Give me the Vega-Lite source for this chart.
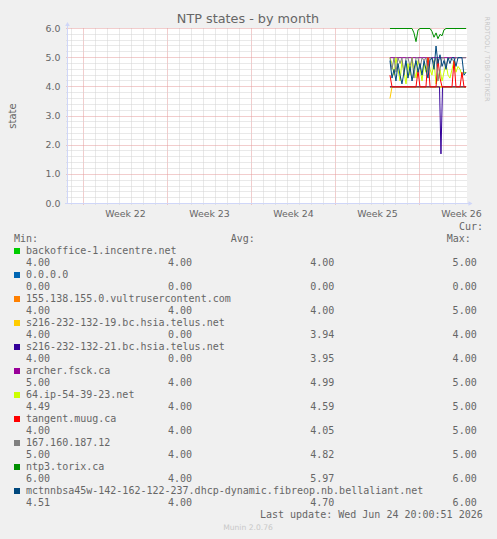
{
  "$schema": "https://vega.github.io/schema/vega-lite/v6.json",
  "width": 400,
  "height": 175,
  "autosize": {"type": "none"},
  "padding": {"left": 67, "top": 28, "right": 30, "bottom": 336},
  "background": "#f0f0f0",
  "config": {
    "view": {"fill": "#ffffff", "stroke": null},
    "font": "DejaVu Sans",
    "axis": {"gridDash": [1, 1], "tickDash": [1, 1]}
  },
  "title": {
    "text": "NTP states - by month",
    "frame": "group",
    "anchor": "middle",
    "dx": -19,
    "offset": -9,
    "font": "DejaVu Sans",
    "fontSize": 12.8,
    "fontWeight": "normal",
    "color": "#666666"
  },
  "datasets": {
    "series": [
      {"host": "backoffice-1.incentre.net", "day": 25.58, "v": 4},
      {"host": "backoffice-1.incentre.net", "day": 31.92, "v": 4},
      {"host": "0.0.0.0", "day": 25.58, "v": 0},
      {"host": "0.0.0.0", "day": 31.92, "v": 0},
      {"host": "155.138.155.0.vultrusercontent.com", "day": 25.58, "v": 4},
      {"host": "155.138.155.0.vultrusercontent.com", "day": 31.92, "v": 4},
      {"host": "s216-232-132-19.bc.hsia.telus.net", "day": 25.58, "v": 3.6},
      {"host": "s216-232-132-19.bc.hsia.telus.net", "day": 25.75, "v": 4},
      {"host": "s216-232-132-19.bc.hsia.telus.net", "day": 31.92, "v": 4},
      {"host": "s216-232-132-21.bc.hsia.telus.net", "day": 25.58, "v": 4},
      {"host": "s216-232-132-21.bc.hsia.telus.net", "day": 29.71, "v": 4},
      {"host": "s216-232-132-21.bc.hsia.telus.net", "day": 29.83, "v": 1.7},
      {"host": "s216-232-132-21.bc.hsia.telus.net", "day": 29.96, "v": 4},
      {"host": "s216-232-132-21.bc.hsia.telus.net", "day": 31.92, "v": 4},
      {"host": "archer.fsck.ca", "day": 25.58, "v": 5},
      {"host": "archer.fsck.ca", "day": 31.92, "v": 5},
      {"host": "64.ip-54-39-23.net", "day": 25.58, "v": 5},
      {"host": "64.ip-54-39-23.net", "day": 25.75, "v": 4.8},
      {"host": "64.ip-54-39-23.net", "day": 25.92, "v": 4.4},
      {"host": "64.ip-54-39-23.net", "day": 26.08, "v": 5},
      {"host": "64.ip-54-39-23.net", "day": 26.25, "v": 4.6},
      {"host": "64.ip-54-39-23.net", "day": 26.42, "v": 4.2},
      {"host": "64.ip-54-39-23.net", "day": 26.58, "v": 4.9},
      {"host": "64.ip-54-39-23.net", "day": 26.75, "v": 4.5},
      {"host": "64.ip-54-39-23.net", "day": 26.92, "v": 4.1},
      {"host": "64.ip-54-39-23.net", "day": 27.08, "v": 4.8},
      {"host": "64.ip-54-39-23.net", "day": 27.25, "v": 4.4},
      {"host": "64.ip-54-39-23.net", "day": 27.42, "v": 5},
      {"host": "64.ip-54-39-23.net", "day": 27.58, "v": 4.6},
      {"host": "64.ip-54-39-23.net", "day": 27.75, "v": 4.3},
      {"host": "64.ip-54-39-23.net", "day": 27.92, "v": 4.9},
      {"host": "64.ip-54-39-23.net", "day": 28.08, "v": 4.7},
      {"host": "64.ip-54-39-23.net", "day": 28.25, "v": 4.2},
      {"host": "64.ip-54-39-23.net", "day": 28.42, "v": 4.8},
      {"host": "64.ip-54-39-23.net", "day": 28.58, "v": 4.5},
      {"host": "64.ip-54-39-23.net", "day": 28.75, "v": 5},
      {"host": "64.ip-54-39-23.net", "day": 28.92, "v": 4.6},
      {"host": "64.ip-54-39-23.net", "day": 29.08, "v": 4.4},
      {"host": "64.ip-54-39-23.net", "day": 29.25, "v": 4.9},
      {"host": "64.ip-54-39-23.net", "day": 29.42, "v": 4.1},
      {"host": "64.ip-54-39-23.net", "day": 29.58, "v": 4.3},
      {"host": "64.ip-54-39-23.net", "day": 29.75, "v": 4.6},
      {"host": "64.ip-54-39-23.net", "day": 29.92, "v": 4.2},
      {"host": "64.ip-54-39-23.net", "day": 30.08, "v": 4.5},
      {"host": "64.ip-54-39-23.net", "day": 30.25, "v": 4.8},
      {"host": "64.ip-54-39-23.net", "day": 30.42, "v": 4.4},
      {"host": "64.ip-54-39-23.net", "day": 30.58, "v": 4.3},
      {"host": "64.ip-54-39-23.net", "day": 30.75, "v": 4.6},
      {"host": "64.ip-54-39-23.net", "day": 30.92, "v": 4.9},
      {"host": "64.ip-54-39-23.net", "day": 31.08, "v": 4.5},
      {"host": "64.ip-54-39-23.net", "day": 31.25, "v": 4.7},
      {"host": "64.ip-54-39-23.net", "day": 31.42, "v": 4.6},
      {"host": "64.ip-54-39-23.net", "day": 31.58, "v": 4.4},
      {"host": "64.ip-54-39-23.net", "day": 31.75, "v": 4.5},
      {"host": "64.ip-54-39-23.net", "day": 31.92, "v": 4.49},
      {"host": "tangent.muug.ca", "day": 25.58, "v": 4.4},
      {"host": "tangent.muug.ca", "day": 25.75, "v": 4},
      {"host": "tangent.muug.ca", "day": 27.75, "v": 4},
      {"host": "tangent.muug.ca", "day": 27.92, "v": 4.55},
      {"host": "tangent.muug.ca", "day": 28.08, "v": 4},
      {"host": "tangent.muug.ca", "day": 28.58, "v": 4},
      {"host": "tangent.muug.ca", "day": 28.75, "v": 5},
      {"host": "tangent.muug.ca", "day": 28.92, "v": 4},
      {"host": "tangent.muug.ca", "day": 29.42, "v": 4},
      {"host": "tangent.muug.ca", "day": 29.58, "v": 4.95},
      {"host": "tangent.muug.ca", "day": 29.75, "v": 4.3},
      {"host": "tangent.muug.ca", "day": 29.92, "v": 4},
      {"host": "tangent.muug.ca", "day": 30.75, "v": 4},
      {"host": "tangent.muug.ca", "day": 30.92, "v": 4.9},
      {"host": "tangent.muug.ca", "day": 31.08, "v": 4},
      {"host": "tangent.muug.ca", "day": 31.42, "v": 4},
      {"host": "tangent.muug.ca", "day": 31.58, "v": 4.5},
      {"host": "tangent.muug.ca", "day": 31.75, "v": 4},
      {"host": "tangent.muug.ca", "day": 31.92, "v": 4},
      {"host": "167.160.187.12", "day": 25.58, "v": 5},
      {"host": "167.160.187.12", "day": 25.75, "v": 4.6},
      {"host": "167.160.187.12", "day": 25.92, "v": 5},
      {"host": "167.160.187.12", "day": 26.08, "v": 4.5},
      {"host": "167.160.187.12", "day": 26.25, "v": 5},
      {"host": "167.160.187.12", "day": 26.42, "v": 4.8},
      {"host": "167.160.187.12", "day": 26.58, "v": 5},
      {"host": "167.160.187.12", "day": 26.75, "v": 4.4},
      {"host": "167.160.187.12", "day": 26.92, "v": 5},
      {"host": "167.160.187.12", "day": 27.08, "v": 5},
      {"host": "167.160.187.12", "day": 27.25, "v": 4.7},
      {"host": "167.160.187.12", "day": 27.42, "v": 5},
      {"host": "167.160.187.12", "day": 27.58, "v": 4.3},
      {"host": "167.160.187.12", "day": 27.75, "v": 5},
      {"host": "167.160.187.12", "day": 27.92, "v": 5},
      {"host": "167.160.187.12", "day": 28.08, "v": 4.6},
      {"host": "167.160.187.12", "day": 28.25, "v": 5},
      {"host": "167.160.187.12", "day": 28.42, "v": 4.9},
      {"host": "167.160.187.12", "day": 28.58, "v": 5},
      {"host": "167.160.187.12", "day": 28.75, "v": 4.5},
      {"host": "167.160.187.12", "day": 28.92, "v": 5},
      {"host": "167.160.187.12", "day": 29.08, "v": 5},
      {"host": "167.160.187.12", "day": 29.25, "v": 4.8},
      {"host": "167.160.187.12", "day": 29.42, "v": 5},
      {"host": "167.160.187.12", "day": 29.58, "v": 4.2},
      {"host": "167.160.187.12", "day": 29.75, "v": 4.6},
      {"host": "167.160.187.12", "day": 29.92, "v": 5},
      {"host": "167.160.187.12", "day": 30.08, "v": 5},
      {"host": "167.160.187.12", "day": 30.25, "v": 4.7},
      {"host": "167.160.187.12", "day": 30.42, "v": 5},
      {"host": "167.160.187.12", "day": 30.92, "v": 4.9},
      {"host": "167.160.187.12", "day": 31.08, "v": 5},
      {"host": "167.160.187.12", "day": 31.92, "v": 5},
      {"host": "ntp3.torix.ca", "day": 25.58, "v": 6},
      {"host": "ntp3.torix.ca", "day": 27.42, "v": 6},
      {"host": "ntp3.torix.ca", "day": 27.58, "v": 5.85},
      {"host": "ntp3.torix.ca", "day": 27.75, "v": 5.55},
      {"host": "ntp3.torix.ca", "day": 27.92, "v": 5.95},
      {"host": "ntp3.torix.ca", "day": 28.08, "v": 6},
      {"host": "ntp3.torix.ca", "day": 28.92, "v": 6},
      {"host": "ntp3.torix.ca", "day": 29.08, "v": 5.9},
      {"host": "ntp3.torix.ca", "day": 29.25, "v": 5.7},
      {"host": "ntp3.torix.ca", "day": 29.42, "v": 5.85},
      {"host": "ntp3.torix.ca", "day": 29.58, "v": 5.65},
      {"host": "ntp3.torix.ca", "day": 29.75, "v": 5.8},
      {"host": "ntp3.torix.ca", "day": 29.92, "v": 5.75},
      {"host": "ntp3.torix.ca", "day": 30.08, "v": 5.95},
      {"host": "ntp3.torix.ca", "day": 30.25, "v": 6},
      {"host": "ntp3.torix.ca", "day": 31.92, "v": 6},
      {"host": "mctnnbsa45w-142-162-122-237.dhcp-dynamic.fibreop.nb.bellaliant.net", "day": 25.58, "v": 4.9},
      {"host": "mctnnbsa45w-142-162-122-237.dhcp-dynamic.fibreop.nb.bellaliant.net", "day": 25.75, "v": 4.3},
      {"host": "mctnnbsa45w-142-162-122-237.dhcp-dynamic.fibreop.nb.bellaliant.net", "day": 25.92, "v": 4.6},
      {"host": "mctnnbsa45w-142-162-122-237.dhcp-dynamic.fibreop.nb.bellaliant.net", "day": 26.08, "v": 4.2},
      {"host": "mctnnbsa45w-142-162-122-237.dhcp-dynamic.fibreop.nb.bellaliant.net", "day": 26.25, "v": 4.8},
      {"host": "mctnnbsa45w-142-162-122-237.dhcp-dynamic.fibreop.nb.bellaliant.net", "day": 26.42, "v": 4.4},
      {"host": "mctnnbsa45w-142-162-122-237.dhcp-dynamic.fibreop.nb.bellaliant.net", "day": 26.58, "v": 4.1},
      {"host": "mctnnbsa45w-142-162-122-237.dhcp-dynamic.fibreop.nb.bellaliant.net", "day": 26.75, "v": 4.5},
      {"host": "mctnnbsa45w-142-162-122-237.dhcp-dynamic.fibreop.nb.bellaliant.net", "day": 26.92, "v": 4.9},
      {"host": "mctnnbsa45w-142-162-122-237.dhcp-dynamic.fibreop.nb.bellaliant.net", "day": 27.08, "v": 4.3},
      {"host": "mctnnbsa45w-142-162-122-237.dhcp-dynamic.fibreop.nb.bellaliant.net", "day": 27.25, "v": 4.7},
      {"host": "mctnnbsa45w-142-162-122-237.dhcp-dynamic.fibreop.nb.bellaliant.net", "day": 27.42, "v": 4.2},
      {"host": "mctnnbsa45w-142-162-122-237.dhcp-dynamic.fibreop.nb.bellaliant.net", "day": 27.58, "v": 4.6},
      {"host": "mctnnbsa45w-142-162-122-237.dhcp-dynamic.fibreop.nb.bellaliant.net", "day": 27.75, "v": 4.9},
      {"host": "mctnnbsa45w-142-162-122-237.dhcp-dynamic.fibreop.nb.bellaliant.net", "day": 27.92, "v": 4.5},
      {"host": "mctnnbsa45w-142-162-122-237.dhcp-dynamic.fibreop.nb.bellaliant.net", "day": 28.08, "v": 4.8},
      {"host": "mctnnbsa45w-142-162-122-237.dhcp-dynamic.fibreop.nb.bellaliant.net", "day": 28.25, "v": 4.4},
      {"host": "mctnnbsa45w-142-162-122-237.dhcp-dynamic.fibreop.nb.bellaliant.net", "day": 28.42, "v": 4.9},
      {"host": "mctnnbsa45w-142-162-122-237.dhcp-dynamic.fibreop.nb.bellaliant.net", "day": 28.58, "v": 4.6},
      {"host": "mctnnbsa45w-142-162-122-237.dhcp-dynamic.fibreop.nb.bellaliant.net", "day": 28.75, "v": 4.3},
      {"host": "mctnnbsa45w-142-162-122-237.dhcp-dynamic.fibreop.nb.bellaliant.net", "day": 28.92, "v": 4.9},
      {"host": "mctnnbsa45w-142-162-122-237.dhcp-dynamic.fibreop.nb.bellaliant.net", "day": 29.08, "v": 5.0},
      {"host": "mctnnbsa45w-142-162-122-237.dhcp-dynamic.fibreop.nb.bellaliant.net", "day": 29.25, "v": 4.6},
      {"host": "mctnnbsa45w-142-162-122-237.dhcp-dynamic.fibreop.nb.bellaliant.net", "day": 29.42, "v": 5.4},
      {"host": "mctnnbsa45w-142-162-122-237.dhcp-dynamic.fibreop.nb.bellaliant.net", "day": 29.58, "v": 4.8},
      {"host": "mctnnbsa45w-142-162-122-237.dhcp-dynamic.fibreop.nb.bellaliant.net", "day": 29.75, "v": 5.1},
      {"host": "mctnnbsa45w-142-162-122-237.dhcp-dynamic.fibreop.nb.bellaliant.net", "day": 29.92, "v": 4.7},
      {"host": "mctnnbsa45w-142-162-122-237.dhcp-dynamic.fibreop.nb.bellaliant.net", "day": 30.08, "v": 4.9},
      {"host": "mctnnbsa45w-142-162-122-237.dhcp-dynamic.fibreop.nb.bellaliant.net", "day": 30.25, "v": 4.6},
      {"host": "mctnnbsa45w-142-162-122-237.dhcp-dynamic.fibreop.nb.bellaliant.net", "day": 30.42, "v": 5.0},
      {"host": "mctnnbsa45w-142-162-122-237.dhcp-dynamic.fibreop.nb.bellaliant.net", "day": 30.58, "v": 4.8},
      {"host": "mctnnbsa45w-142-162-122-237.dhcp-dynamic.fibreop.nb.bellaliant.net", "day": 30.75, "v": 5.0},
      {"host": "mctnnbsa45w-142-162-122-237.dhcp-dynamic.fibreop.nb.bellaliant.net", "day": 30.92, "v": 5.0},
      {"host": "mctnnbsa45w-142-162-122-237.dhcp-dynamic.fibreop.nb.bellaliant.net", "day": 31.08, "v": 4.7},
      {"host": "mctnnbsa45w-142-162-122-237.dhcp-dynamic.fibreop.nb.bellaliant.net", "day": 31.25, "v": 5.0},
      {"host": "mctnnbsa45w-142-162-122-237.dhcp-dynamic.fibreop.nb.bellaliant.net", "day": 31.42, "v": 5.0},
      {"host": "mctnnbsa45w-142-162-122-237.dhcp-dynamic.fibreop.nb.bellaliant.net", "day": 31.58, "v": 5.0},
      {"host": "mctnnbsa45w-142-162-122-237.dhcp-dynamic.fibreop.nb.bellaliant.net", "day": 31.75, "v": 4.4},
      {"host": "mctnnbsa45w-142-162-122-237.dhcp-dynamic.fibreop.nb.bellaliant.net", "day": 31.92, "v": 4.5}
    ],
    "legend": [
      {"host": "backoffice-1.incentre.net", "cur": 4, "min": 4, "avg": 4, "max": 5},
      {"host": "0.0.0.0", "cur": 0, "min": 0, "avg": 0, "max": 0},
      {"host": "155.138.155.0.vultrusercontent.com", "cur": 4, "min": 4, "avg": 4, "max": 5},
      {"host": "s216-232-132-19.bc.hsia.telus.net", "cur": 4, "min": 0, "avg": 3.94, "max": 4},
      {"host": "s216-232-132-21.bc.hsia.telus.net", "cur": 4, "min": 0, "avg": 3.95, "max": 4},
      {"host": "archer.fsck.ca", "cur": 5, "min": 4, "avg": 4.99, "max": 5},
      {"host": "64.ip-54-39-23.net", "cur": 4.49, "min": 4, "avg": 4.59, "max": 5},
      {"host": "tangent.muug.ca", "cur": 4, "min": 4, "avg": 4.05, "max": 5},
      {"host": "167.160.187.12", "cur": 5, "min": 4, "avg": 4.82, "max": 5},
      {"host": "ntp3.torix.ca", "cur": 6, "min": 4, "avg": 5.97, "max": 6},
      {"host": "mctnnbsa45w-142-162-122-237.dhcp-dynamic.fibreop.nb.bellaliant.net", "cur": 4.51, "min": 4, "avg": 4.7, "max": 6}
    ]
  },
  "layer": [
    {
      "layer": [
        {
          "data": {"name": "series"},
          "mark": {"type": "line", "strokeWidth": 1, "interpolate": "linear", "yOffset": 0.5},
          "encoding": {
            "x": {
              "field": "day", "type": "quantitative",
              "scale": {"domain": [-1.3333, 32], "nice": false, "zero": false},
              "axis": {
                "title": null,
                "values": [-1,0,1,2,3,4,5,6,7,8,9,10,11,12,13,14,15,16,17,18,19,20,21,22,23,24,25,26,27,28,29,30,31],
                "tickCount": 200,
                "labelExpr": "datum.value % 7 === 0 ? 'Week ' + (22 + datum.value / 7) : ''",
                "labelOffset": 42,
                "labelFlush": false,
                "labelOverlap": false,
                "labelBound": false,
                "labelFont": "DejaVu Sans",
                "labelFontSize": 9.4,
                "labelColor": "#666666",
                "labelPadding": 4,
                "domain": false,
                "grid": true,
                "gridColor": {"condition": {"test": "datum.value % 7 === 0", "value": "#e49a9a"}, "value": "#d2d2d2"},
                "gridDash": [1, 1],
                "gridWidth": 1,
                "gridOpacity": 1,
                "ticks": true,
                "tickSize": 2,
                "tickColor": {"condition": {"test": "datum.value % 7 === 0", "value": "#e49a9a"}, "value": "#d2d2d2"},
                "tickDash": [1, 1]
              }
            },
            "y": {
              "field": "v", "type": "quantitative",
              "scale": {"domain": [0, 6], "nice": false, "zero": false},
              "axis": {
                "title": "state",
                "titleFont": "DejaVu Sans",
                "titleFontSize": 10,
                "titleFontWeight": "normal",
                "titleColor": "#666666",
                "titlePadding": 28,
                "values": [0,0.2,0.4,0.6,0.8,1,1.2,1.4,1.6,1.8,2,2.2,2.4,2.6,2.8,3,3.2,3.4,3.6,3.8,4,4.2,4.4,4.6,4.8,5,5.2,5.4,5.6,5.8,6],
                "tickCount": 200,
                "labelExpr": "abs(datum.value - round(datum.value)) < 0.001 ? format(datum.value, '.1f') : ''",
                "labelOverlap": false,
                "labelFlush": false,
                "labelBound": false,
                "labelFont": "DejaVu Sans",
                "labelFontSize": 9.4,
                "labelColor": "#666666",
                "labelPadding": 5,
                "domain": false,
                "grid": true,
                "gridColor": {"condition": {"test": "abs(datum.value - round(datum.value)) < 0.001", "value": "#e49a9a"}, "value": "#d2d2d2"},
                "gridDash": [1, 1],
                "gridOpacity": 1,
                "ticks": true,
                "tickSize": 2,
                "tickColor": {"condition": {"test": "abs(datum.value - round(datum.value)) < 0.001", "value": "#e49a9a"}, "value": "#d2d2d2"},
                "tickDash": [1, 1]
              }
            },
            "color": {
              "field": "host", "type": "nominal", "legend": null,
              "scale": {
                "domain": ["backoffice-1.incentre.net", "0.0.0.0", "155.138.155.0.vultrusercontent.com", "s216-232-132-19.bc.hsia.telus.net", "s216-232-132-21.bc.hsia.telus.net", "archer.fsck.ca", "64.ip-54-39-23.net", "tangent.muug.ca", "167.160.187.12", "ntp3.torix.ca", "mctnnbsa45w-142-162-122-237.dhcp-dynamic.fibreop.nb.bellaliant.net"],
                "range": ["#00cc00", "#0066b3", "#ff8000", "#ffcc00", "#330099", "#990099", "#ccff00", "#ff0000", "#808080", "#008f00", "#00487d"]
              }
            }
          }
        },
        {
          "data": {"values": [{}]},
          "mark": {"type": "rule", "color": "#cfd6f8", "strokeWidth": 1, "xOffset": 0.5},
          "encoding": {
            "x": {"datum": -1.3333, "type": "quantitative"},
            "y": {"datum": 0, "type": "quantitative"},
            "y2": {"datum": 6.1}
          }
        },
        {
          "data": {"values": [{}]},
          "mark": {"type": "rule", "color": "#cfd6f8", "strokeWidth": 1, "yOffset": 0.5},
          "encoding": {
            "y": {"datum": 0, "type": "quantitative"},
            "x": {"datum": -1.5, "type": "quantitative"},
            "x2": {"datum": 32.2}
          }
        },
        {
          "data": {"values": [{}]},
          "mark": {"type": "point", "shape": "triangle-up", "filled": true, "color": "#cfd6f8", "opacity": 1, "size": 22, "xOffset": 0.5},
          "encoding": {
            "x": {"datum": -1.3333, "type": "quantitative"},
            "y": {"datum": 6.14, "type": "quantitative"}
          }
        },
        {
          "data": {"values": [{}]},
          "mark": {"type": "point", "shape": "triangle-right", "filled": true, "color": "#cfd6f8", "opacity": 1, "size": 22, "yOffset": 0.5},
          "encoding": {
            "x": {"datum": 32.29, "type": "quantitative"},
            "y": {"datum": 0, "type": "quantitative"}
          }
        }
      ]
    },
    {
      "layer": [
        {
          "data": {"name": "legend"},
          "transform": [
            {"window": [{"op": "row_number", "as": "rank"}]},
            {"calculate": "2 * datum.rank", "as": "nameLine"},
            {"calculate": "2 * datum.rank + 1", "as": "valueLine"}
          ],
          "layer": [
            {
              "mark": {"type": "point", "shape": "square", "filled": true, "opacity": 1, "size": 36},
              "encoding": {
                "x": {"datum": 0.5, "type": "quantitative", "scale": {"domain": [8.804, 75.249], "nice": false, "zero": false}, "axis": null},
                "y": {"field": "nameLine", "type": "quantitative", "scale": {"domain": [-16.583, -2], "nice": false, "zero": false, "reverse": true}, "axis": null},
                "color": {"field": "host", "type": "nominal", "legend": null}
              }
            },
            {
              "mark": {"type": "text", "align": "left", "baseline": "middle", "font": "DejaVu Sans Mono", "fontSize": 10, "color": "#666666"},
              "encoding": {
                "x": {"datum": 2, "type": "quantitative", "scale": {"domain": [8.804, 75.249], "nice": false, "zero": false}, "axis": null},
                "y": {"field": "nameLine", "type": "quantitative", "scale": {"domain": [-16.583, -2], "nice": false, "zero": false, "reverse": true}, "axis": null},
                "text": {"field": "host"}
              }
            },
            {
              "mark": {"type": "text", "align": "right", "baseline": "middle", "font": "DejaVu Sans Mono", "fontSize": 10, "color": "#666666"},
              "encoding": {
                "x": {"datum": 5.98, "type": "quantitative", "scale": {"domain": [8.804, 75.249], "nice": false, "zero": false}, "axis": null},
                "y": {"field": "valueLine", "type": "quantitative", "scale": {"domain": [-16.583, -2], "nice": false, "zero": false, "reverse": true}, "axis": null},
                "text": {"field": "cur", "format": ".2f"}
              }
            },
            {
              "mark": {"type": "text", "align": "right", "baseline": "middle", "font": "DejaVu Sans Mono", "fontSize": 10, "color": "#666666"},
              "encoding": {
                "x": {"datum": 29.57, "type": "quantitative", "scale": {"domain": [8.804, 75.249], "nice": false, "zero": false}, "axis": null},
                "y": {"field": "valueLine", "type": "quantitative", "scale": {"domain": [-16.583, -2], "nice": false, "zero": false, "reverse": true}, "axis": null},
                "text": {"field": "min", "format": ".2f"}
              }
            },
            {
              "mark": {"type": "text", "align": "right", "baseline": "middle", "font": "DejaVu Sans Mono", "fontSize": 10, "color": "#666666"},
              "encoding": {
                "x": {"datum": 53.2, "type": "quantitative", "scale": {"domain": [8.804, 75.249], "nice": false, "zero": false}, "axis": null},
                "y": {"field": "valueLine", "type": "quantitative", "scale": {"domain": [-16.583, -2], "nice": false, "zero": false, "reverse": true}, "axis": null},
                "text": {"field": "avg", "format": ".2f"}
              }
            },
            {
              "mark": {"type": "text", "align": "right", "baseline": "middle", "font": "DejaVu Sans Mono", "fontSize": 10, "color": "#666666"},
              "encoding": {
                "x": {"datum": 76.86, "type": "quantitative", "scale": {"domain": [8.804, 75.249], "nice": false, "zero": false}, "axis": null},
                "y": {"field": "valueLine", "type": "quantitative", "scale": {"domain": [-16.583, -2], "nice": false, "zero": false, "reverse": true}, "axis": null},
                "text": {"field": "max", "format": ".2f"}
              }
            }
          ]
        },
        {
          "data": {"values": [{}]},
          "mark": {"type": "text", "text": "Cur:", "align": "left", "baseline": "middle", "font": "DejaVu Sans Mono", "fontSize": 10, "color": "#666666"},
          "encoding": {
            "x": {"datum": 73.92, "type": "quantitative", "scale": {"domain": [8.804, 75.249], "nice": false, "zero": false}, "axis": null},
            "y": {"datum": 0, "type": "quantitative", "scale": {"domain": [-16.583, -2], "nice": false, "zero": false, "reverse": true}, "axis": null}
          }
        },
        {
          "data": {"values": [{}]},
          "mark": {"type": "text", "text": "Min:", "align": "left", "baseline": "middle", "font": "DejaVu Sans Mono", "fontSize": 10, "color": "#666666"},
          "encoding": {
            "x": {"datum": 0, "type": "quantitative", "scale": {"domain": [8.804, 75.249], "nice": false, "zero": false}, "axis": null},
            "y": {"datum": 1, "type": "quantitative", "scale": {"domain": [-16.583, -2], "nice": false, "zero": false, "reverse": true}, "axis": null}
          }
        },
        {
          "data": {"values": [{}]},
          "mark": {"type": "text", "text": "Avg:", "align": "left", "baseline": "middle", "font": "DejaVu Sans Mono", "fontSize": 10, "color": "#666666"},
          "encoding": {
            "x": {"datum": 36.0, "type": "quantitative", "scale": {"domain": [8.804, 75.249], "nice": false, "zero": false}, "axis": null},
            "y": {"datum": 1, "type": "quantitative", "scale": {"domain": [-16.583, -2], "nice": false, "zero": false, "reverse": true}, "axis": null}
          }
        },
        {
          "data": {"values": [{}]},
          "mark": {"type": "text", "text": "Max:", "align": "left", "baseline": "middle", "font": "DejaVu Sans Mono", "fontSize": 10, "color": "#666666"},
          "encoding": {
            "x": {"datum": 71.88, "type": "quantitative", "scale": {"domain": [8.804, 75.249], "nice": false, "zero": false}, "axis": null},
            "y": {"datum": 1, "type": "quantitative", "scale": {"domain": [-16.583, -2], "nice": false, "zero": false, "reverse": true}, "axis": null}
          }
        },
        {
          "data": {"values": [{}]},
          "mark": {"type": "text", "text": "Last update: Wed Jun 24 20:00:51 2026", "align": "right", "baseline": "middle", "font": "DejaVu Sans Mono", "fontSize": 10, "color": "#666666"},
          "encoding": {
            "x": {"datum": 77.86, "type": "quantitative", "scale": {"domain": [8.804, 75.249], "nice": false, "zero": false}, "axis": null},
            "y": {"datum": 24, "type": "quantitative", "scale": {"domain": [-16.583, -2], "nice": false, "zero": false, "reverse": true}, "axis": null}
          }
        },
        {
          "data": {"values": [{}]},
          "mark": {"type": "text", "text": "Munin 2.0.76", "align": "center", "baseline": "middle", "font": "DejaVu Sans", "fontSize": 7.6, "color": "#c8c8c8"},
          "encoding": {
            "x": {"datum": 38.87, "type": "quantitative", "scale": {"domain": [8.804, 75.249], "nice": false, "zero": false}, "axis": null},
            "y": {"datum": 25.08, "type": "quantitative", "scale": {"domain": [-16.583, -2], "nice": false, "zero": false, "reverse": true}, "axis": null}
          }
        },
        {
          "data": {"values": [{}]},
          "mark": {"type": "text", "text": "RRDTOOL / TOBI OETIKER", "angle": 90, "align": "center", "baseline": "middle", "font": "DejaVu Sans", "fontSize": 6.6, "color": "#c8c8c8"},
          "encoding": {
            "x": {"datum": 78.57, "type": "quantitative", "scale": {"domain": [8.804, 75.249], "nice": false, "zero": false}, "axis": null},
            "y": {"datum": -14, "type": "quantitative", "scale": {"domain": [-16.583, -2], "nice": false, "zero": false, "reverse": true}, "axis": null}
          }
        }
      ]
    }
  ],
  "resolve": {"scale": {"x": "independent", "y": "independent"}}
}
